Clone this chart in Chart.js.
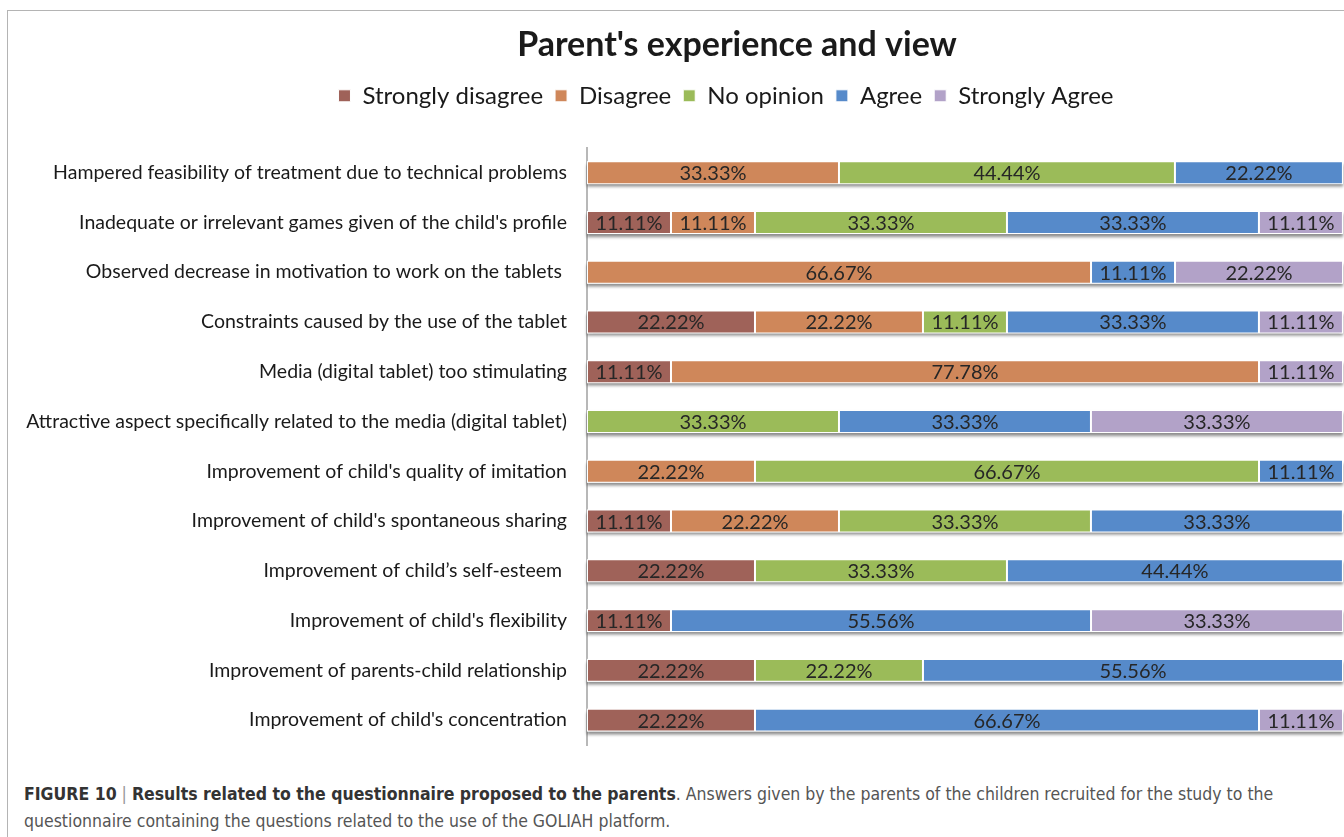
<!DOCTYPE html>
<html>
<head>
<meta charset="utf-8">
<script src="https://cdn.jsdelivr.net/npm/chart.js@4.4.1/dist/chart.umd.min.js"></script>
<style>
    html, body { margin: 0; padding: 0; background: #fff; overflow: hidden; }
    body { width: 1344px; height: 837px; position: relative; }
    #leftLine { position: absolute; left: 7px; top: 10px; width: 0; height: 827px; border-left: 1px solid #b4b4b4; }
    #frame { position: absolute; left: 7px; top: 10px; width: 1337px; height: 740px; border-top: 1px solid #b4b4b4; overflow: hidden; }
    #chartParents { position: absolute; left: 1px; top: 0; }
    #caption {
        position: absolute; left: 24px; top: 781px; width: 1300px;
        font-family: "Liberation Sans Narrow", "DejaVu Sans Condensed", Roboto, sans-serif;
        font-size: 17.5px; line-height: 27px; color: #555;
    }
    #caption b { color: #333; }
</style>
</head>
<body>
<div id="leftLine"></div>
<div id="frame"><canvas id="chartParents" width="1458" height="736"></canvas></div>
<div id="caption"><b>FIGURE 10</b> <span style="color:#999">|</span> <b>Results related to the questionnaire proposed to the parents</b>. Answers given by the parents of the children recruited for the study to the<br>questionnaire containing the questions related to the use of the GOLIAH platform.</div>
<script>
document.addEventListener("DOMContentLoaded", function () {
    // === Datos ===
    const preguntas = [
        "Hampered feasibility of treatment due to technical problems",
        "Inadequate or irrelevant games given of the child's profile",
        "Observed decrease in motivation to work on the tablets ",
        "Constraints caused by the use of the tablet",
        "Media (digital tablet) too stimulating",
        "Attractive aspect specifically related to the media (digital tablet)",
        "Improvement of child's quality of imitation",
        "Improvement of child's spontaneous sharing",
        "Improvement of child\u2019s self-esteem ",
        "Improvement of child's flexibility",
        "Improvement of parents-child relationship",
        "Improvement of child's concentration"
    ];
    const stronglyDisagree = [0, 11.11, 0, 22.22, 11.11, 0, 0, 11.11, 22.22, 11.11, 22.22, 22.22];
    const disagree         = [33.33, 11.11, 66.67, 22.22, 77.78, 0, 22.22, 22.22, 0, 0, 0, 0];
    const noOpinion        = [44.44, 33.33, 0, 11.11, 0, 33.33, 66.67, 33.33, 33.33, 0, 22.22, 0];
    const agree            = [22.22, 33.33, 11.11, 33.33, 0, 33.33, 11.11, 33.33, 44.44, 55.56, 55.56, 66.67];
    const stronglyAgree    = [0, 11.11, 22.22, 11.11, 11.11, 33.33, 0, 0, 0, 33.33, 0, 11.11];

    const fuente = "Lato, 'Open Sans', sans-serif";

    // === Sombra bajo cada barra (estilo Excel) ===
    const sombraBarras = {
        id: "sombraBarras",
        beforeDatasetsDraw(chart) {
            const ctx = chart.ctx;
            const metas = chart.getSortedVisibleDatasetMetas();
            ctx.save();
            ctx.shadowColor = "rgba(0,0,0,0.45)";
            ctx.shadowBlur = 3;
            ctx.shadowOffsetY = 3;
            ctx.fillStyle = "#ffffff";
            preguntas.forEach((_, i) => {
                let x0 = Infinity, x1 = -Infinity, y = 0, h = 0;
                metas.forEach(m => {
                    const el = m.data[i];
                    x0 = Math.min(x0, el.base, el.x);
                    x1 = Math.max(x1, el.base, el.x);
                    y = el.y; h = el.height;
                });
                ctx.fillRect(x0, y - h / 2, x1 - x0, h);
            });
            ctx.restore();
        }
    };

    // === Etiquetas de porcentaje ===
    const etiquetas = {
        id: "etiquetas",
        afterDatasetsDraw(chart) {
            const ctx = chart.ctx;
            ctx.save();
            ctx.font = "20px " + fuente;
            ctx.fillStyle = "#262626";
            ctx.textAlign = "center";
            ctx.textBaseline = "middle";
            chart.getSortedVisibleDatasetMetas().forEach(m => {
                const valores = chart.data.datasets[m.index].data;
                m.data.forEach((el, i) => {
                    if (!valores[i]) return;
                    ctx.fillText(valores[i].toFixed(2) + "%", (el.x + el.base) / 2, el.y + 1);
                });
            });
            ctx.restore();
        }
    };

    // espacio extra bajo la leyenda y pequeño ajuste horizontal
    const espacioLeyenda = {
        id: "espacioLeyenda",
        beforeInit(chart) {
            const fitOriginal = chart.legend.fit;
            chart.legend.fit = function () {
                fitOriginal.bind(chart.legend)();
                this.height += 30;
            };
        },
        afterLayout(chart) {
            chart.legend.left -= 11;
            chart.legend.right -= 11;
        }
    };

    const serie = (label, data, color) => ({
        label: label,
        data: data,
        backgroundColor: color,
        borderColor: "#ffffff",
        borderWidth: 1,
        borderSkipped: false,
        categoryPercentage: 1,
        barPercentage: 0.46
    });

    new Chart(document.getElementById("chartParents").getContext("2d"), {
        type: "bar",
        data: {
            labels: preguntas,
            datasets: [
                serie("Strongly disagree", stronglyDisagree, "#9f6259"),
                serie("Disagree", disagree, "#cf875a"),
                serie("No opinion", noOpinion, "#9bbb59"),
                serie("Agree", agree, "#568aca"),
                serie("Strongly Agree", stronglyAgree, "#b2a2c8")
            ]
        },
        plugins: [sombraBarras, etiquetas, espacioLeyenda],
        options: {
            indexAxis: "y",
            responsive: false,
            animation: false,
            layout: { autoPadding: false, padding: { left: 0, right: 0, top: 0, bottom: 2 } },
            scales: {
                x: { stacked: true, min: 0, max: 100, display: false },
                y: {
                    stacked: true,
                    grid: { display: false, drawTicks: false },
                    border: { display: true, color: "#b8b8b8", width: 2 },
                    ticks: { color: "#1a1a1a", padding: 20, font: { family: fuente, size: 19.5 } },
                    afterFit(scale) {
                        scale.width = 579;
                        scale.paddingTop = 0;
                        scale.paddingBottom = 0;
                    }
                },
                // margen derecho del gráfico original (recortado)
                yDerecha: {
                    type: "category",
                    position: "right",
                    grid: { display: false, drawTicks: false },
                    border: { display: false },
                    ticks: { display: false },
                    afterFit(scale) {
                        scale.width = 123;
                        scale.paddingTop = 0;
                        scale.paddingBottom = 0;
                    }
                }
            },
            plugins: {
                title: {
                    display: true,
                    text: "Parent's experience and view",
                    color: "#1a1a1a",
                    font: { family: fuente, size: 34, weight: "bold" },
                    padding: { top: 14, bottom: 6 }
                },
                legend: {
                    position: "top",
                    labels: {
                        color: "#1a1a1a",
                        boxWidth: 12,
                        boxHeight: 12,
                        padding: 12,
                        font: { family: fuente, size: 24 }
                    }
                },
                tooltip: { enabled: false }
            }
        }
    });
});
</script>
</body>
</html>
